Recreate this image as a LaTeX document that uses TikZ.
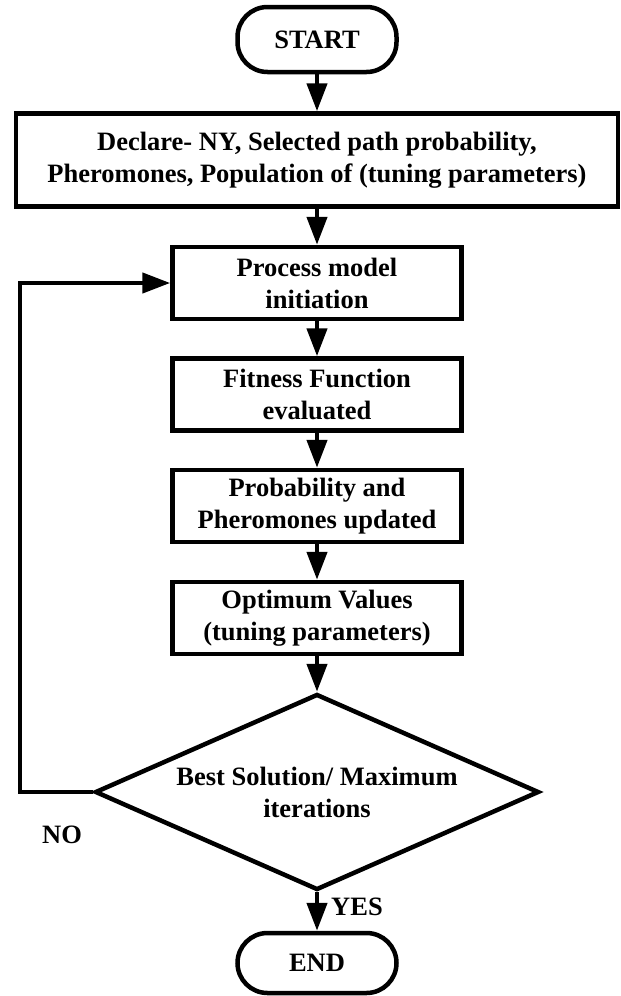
\documentclass[tikz,border=0pt]{standalone}
\usepackage{fontspec}
\setmainfont{Liberation Serif}
\usetikzlibrary{arrows.meta,shapes.geometric}
\begin{document}
\begin{tikzpicture}[x=1pt,y=-1pt,
  every node/.style={font=\fontsize{26.5}{32}\selectfont\bfseries},
  ln/.style={line width=4.5pt},
  procbox/.style={draw,ln,rectangle,minimum width=289pt,minimum height=72pt,align=center,inner sep=0pt},
  term/.style={draw,ln,rounded corners=30pt,minimum width=159pt,inner sep=0pt},
  decision/.style={draw,ln,diamond,aspect=2.26,minimum width=444pt,minimum height=196pt,inner sep=0pt,align=center},
  arr/.style={ln,-{Triangle[length=28pt,width=20pt]}},
  lbl/.style={inner sep=0pt}
]
\useasboundingbox (0,0) rectangle (621,996);
\node[term,minimum height=65pt] (start) at (317,39.5) {START};
\node[draw,ln,rectangle,minimum width=602pt,minimum height=93pt,align=center,inner sep=0pt] (declare) at (317,160)
  {Declare- NY, Selected path probability,\\Pheromones, Population of (tuning parameters)};
\node[procbox] (process) at (317,283) {Process model\\initiation};
\node[procbox] (fitness) at (317,394.5) {Fitness Function\\evaluated};
\node[procbox] (prob) at (317,506) {Probability and\\Pheromones updated};
\node[procbox] (opt) at (317,618) {Optimum Values\\(tuning parameters)};
\node[decision] (dec) at (317,792) {Best Solution/ Maximum\\iterations};
\node[term,minimum height=60pt] (end) at (317,963) {END};
\node[lbl] (no) at (62,835) {NO};
\node[lbl] (yes) at (357,907) {YES};
\coordinate (c1) at (20,792);
\coordinate (c2) at (20,283);
\draw[arr] (start) -- (declare);
\draw[arr] (declare) -- (process);
\draw[arr] (process) -- (fitness);
\draw[arr] (fitness) -- (prob);
\draw[arr] (prob) -- (opt);
\draw[arr] (opt) -- (dec);
\draw[arr] (dec) -- (end);
\draw[arr,line join=miter] (dec.west) -- (c1) -- (c2) -- (process.west);
\end{tikzpicture}
\end{document}
